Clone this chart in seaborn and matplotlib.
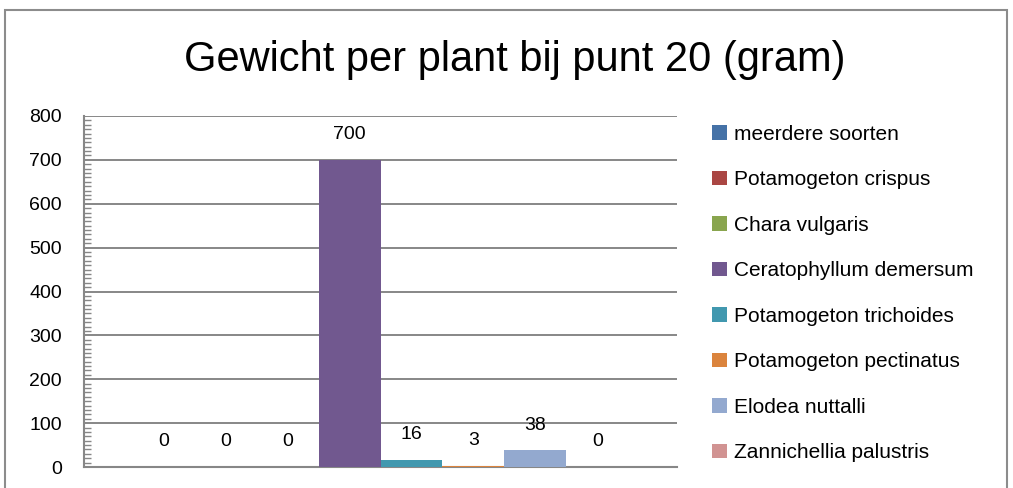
import pandas as pd
import matplotlib
matplotlib.use("Agg")
import matplotlib.pyplot as plt
import seaborn as sns
from matplotlib.patches import Rectangle
from matplotlib.ticker import MultipleLocator

# data
species = ["meerdere soorten", "Potamogeton crispus", "Chara vulgaris",
           "Ceratophyllum demersum", "Potamogeton trichoides",
           "Potamogeton pectinatus", "Elodea nuttalli", "Zannichellia palustris"]
weights = [0, 0, 0, 700, 16, 3, 38, 0]
colors = ["#4572A7", "#AA4643", "#89A54E", "#71588F",
          "#4198AF", "#DB843D", "#93A9CF", "#D19392"]
title = "Gewicht per plant bij punt 20 (gram)"

sns.set_style("white")
plt.rcParams["font.family"] = ["Liberation Sans", "DejaVu Sans"]
plt.rcParams["text.color"] = "black"

df = pd.DataFrame({"punt": ["20"] * len(species), "soort": species, "gewicht": weights})

fig = plt.figure(figsize=(10.13, 4.88), dpi=100)
ax = fig.add_axes([84 / 1013, 1 - 467 / 488, (677 - 84) / 1013, (467 - 116) / 488])

sns.barplot(data=df, x="punt", y="gewicht", hue="soort", hue_order=species,
            palette=colors, width=0.836, saturation=1, linewidth=0,
            edgecolor="none", ax=ax, legend=True)
# bars sit on top of the axis line, like the original
for cont in ax.containers:
    for bar in cont:
        bar.set_zorder(3)

grid = "#878787"
ax.set_ylim(0, 800)
ax.set_xlim(-0.5, 0.5)
ax.yaxis.set_major_locator(MultipleLocator(100))
ax.yaxis.set_minor_locator(MultipleLocator(10))
ax.grid(axis="y", color=grid, linewidth=1.4, zorder=0)
ax.set_axisbelow(True)
ax.tick_params(axis="y", which="both", direction="in", left=True, color=grid,
               width=1, labelsize=14, pad=16, labelcolor="black")
ax.tick_params(axis="y", which="major", length=0)
ax.tick_params(axis="y", which="minor", length=5)
ax.set_xticks([])
ax.set_xlabel("")
ax.set_ylabel("")
for side in ["top", "right"]:
    ax.spines[side].set_visible(False)
for side in ["left", "bottom"]:
    ax.spines[side].set_color(grid)
    ax.spines[side].set_linewidth(1.5)

# value labels above the bars
for cont in ax.containers:
    for bar in cont:
        h = bar.get_height()
        ax.annotate(f"{h:.0f}", (bar.get_x() + bar.get_width() / 2, h),
                    xytext=(0, 18), textcoords="offset points",
                    ha="center", va="center", fontsize=14, color="black")

handles, labels = ax.get_legend_handles_labels()
ax.legend(handles, labels, loc="upper left", bbox_to_anchor=(712 / 1013, 1 - 125 / 488),
          bbox_transform=fig.transFigure, frameon=False, fontsize=15,
          handlelength=0.7, handleheight=0.7, handletextpad=0.35,
          labelspacing=1.27, borderpad=0, borderaxespad=0)

fig.text(515 / 1013, 1 - 60 / 488, title, ha="center", va="center", fontsize=30,
         color="black")

# outer chart frame
fig.patches.append(Rectangle((5 / 1013, -0.1), (1007 - 5) / 1013, 1.1 - 10 / 488,
                             transform=fig.transFigure, fill=False,
                             edgecolor="#8C8C8C", linewidth=1.5))

fig.savefig("out.png", dpi=100)
